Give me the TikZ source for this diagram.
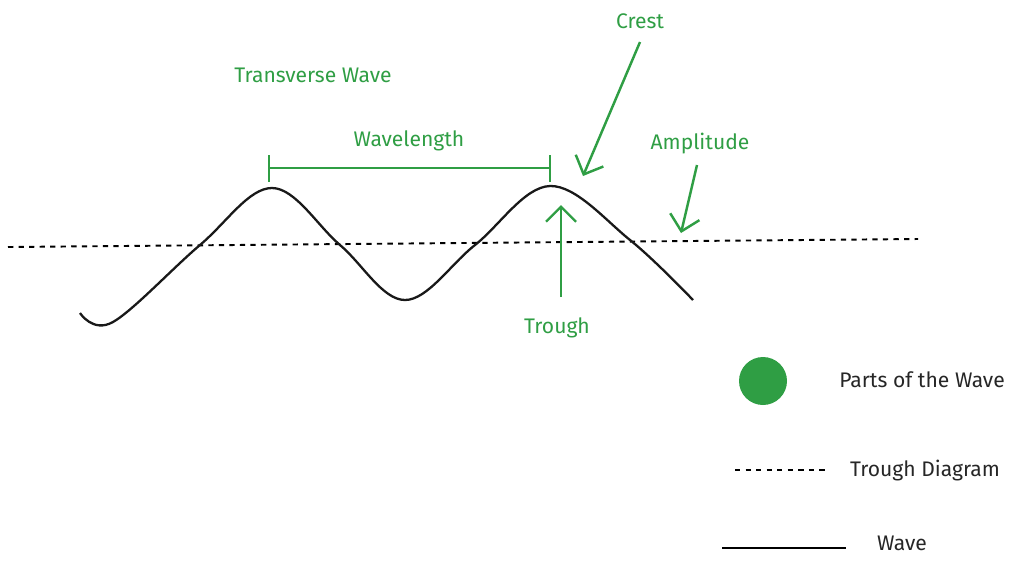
\documentclass[tikz,border=0pt]{standalone}
\usepackage{fontspec}
\setmainfont{Fira Sans}
\usetikzlibrary{arrows.meta}
\definecolor{partgreen}{HTML}{2F9E44}
\tikzset{
  lbl/.style={text=partgreen, font=\large},
  key/.style={text=black!85, font=\large},
  pointer/.style={draw=partgreen, line width=1.4pt, -{Straight Barb[length=3mm]}},
}
\begin{document}
\begin{tikzpicture}[x=0.02cm, y=-0.02cm]
      \useasboundingbox (0,0) rectangle (1024,566);

      \draw[line width=1.1pt, dashed] (8,247)--(918,239);
      \draw[line width=1.3pt, black!90]
      plot[smooth, tension=0.6] coordinates {(80,313) (113,322) (200,245) (272,188) (340,245) (405,300) (475,245) (550,186) (630,240) (693,300)};

      \node at (313,75) [lbl] (title) {Transverse Wave};
      \node at (409,141) [lbl] (wavelength) {Wavelength};
      \draw[partgreen, line width=1.4pt]
      (269,155)--(269,182) (269,168)--(550,168) (550,155)--(550,182);

      \node at (640,21) [lbl] (crest) {Crest};
      \coordinate (crest-start) at (640,42);
      \coordinate (crest-tip) at (583,176);
      \draw[pointer] (crest-start) -- (crest-tip);

      \node at (700,144) [lbl] (amplitude) {Amplitude};
      \coordinate (amplitude-start) at (697,165);
      \coordinate (amplitude-tip) at (681,233);
      \draw[pointer] (amplitude-start) -- (amplitude-tip);

      \node at (557,328) [lbl] (trough) {Trough};
      \coordinate (trough-start) at (561,297);
      \coordinate (trough-tip) at (561,205);
      \draw[pointer] (trough-start) -- (trough-tip);

      % legend
      \node at (763,381) [circle, fill=partgreen, minimum size=0.96cm, inner sep=0pt] (parts-dot) {};
      \node at (922,380) [key] (parts) {Parts of the Wave};
      \draw[line width=1.1pt, dashed] (735,470)--(826,470);
      \node at (925,471) [key] (trough-key) {Trough Diagram};
      \draw[line width=1.3pt] (722,548)--(846,548);
      \node at (902,543) [key] (wave-key) {Wave};
\end{tikzpicture}
\end{document}
